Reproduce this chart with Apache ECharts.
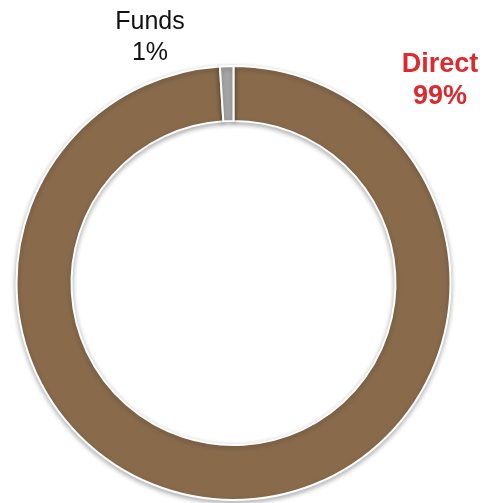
<!DOCTYPE html>
<html lang="en">
<head>
    <meta charset="UTF-8">
    <title>Direct vs Funds</title>
    <script src="https://cdn.jsdelivr.net/npm/echarts@6/dist/echarts.min.js"></script>
    <style>
        html, body {
            margin: 0;
            padding: 0;
            background: #fff;
        }
        #chart {
            width: 489px;
            height: 503px;
        }
    </style>
</head>
<body>
<div id="chart"></div>

<script>
    // data
    const categories = ['Direct', 'Funds'];
    const shares = [99, 1];
    const sliceColors = ['#896B4C', '#A6A6A6'];

    // where each label sits (x, y of the text block centre)
    const labelSpots = [[440, 81], [150, 38]];
    const labelStyles = [
        { color: '#DD2A2E', fontWeight: 'bold', fontSize: 27, lineHeight: 32 },
        { color: '#111', fontWeight: 'normal', fontSize: 25, lineHeight: 31 }
    ];

    const chart = echarts.init(document.getElementById('chart'));

    const option = {
        backgroundColor: '#fff',
        animation: false,
        series: [
            {
                type: 'pie',
                center: [233.5, 283],
                radius: [162, 217],
                startAngle: 90,
                clockwise: true,
                itemStyle: {
                    borderColor: '#fff',
                    borderWidth: 2,
                    shadowBlur: 5,
                    shadowOffsetY: 2,
                    shadowColor: 'rgba(0, 0, 0, 0.3)'
                },
                label: {
                    show: true,
                    position: 'outside',
                    formatter: '{b}\n{d}%',
                    fontFamily: 'Liberation Sans, Arial, sans-serif',
                    align: 'center'
                },
                labelLine: { show: false },
                labelLayout: params => ({
                    x: labelSpots[params.dataIndex][0],
                    y: labelSpots[params.dataIndex][1],
                    align: 'center',
                    verticalAlign: 'middle'
                }),
                emphasis: { disabled: true },
                data: categories.map((name, i) => ({
                    name: name,
                    value: shares[i],
                    itemStyle: { color: sliceColors[i] },
                    label: labelStyles[i]
                }))
            }
        ]
    };

    chart.setOption(option);
</script>
</body>
</html>
